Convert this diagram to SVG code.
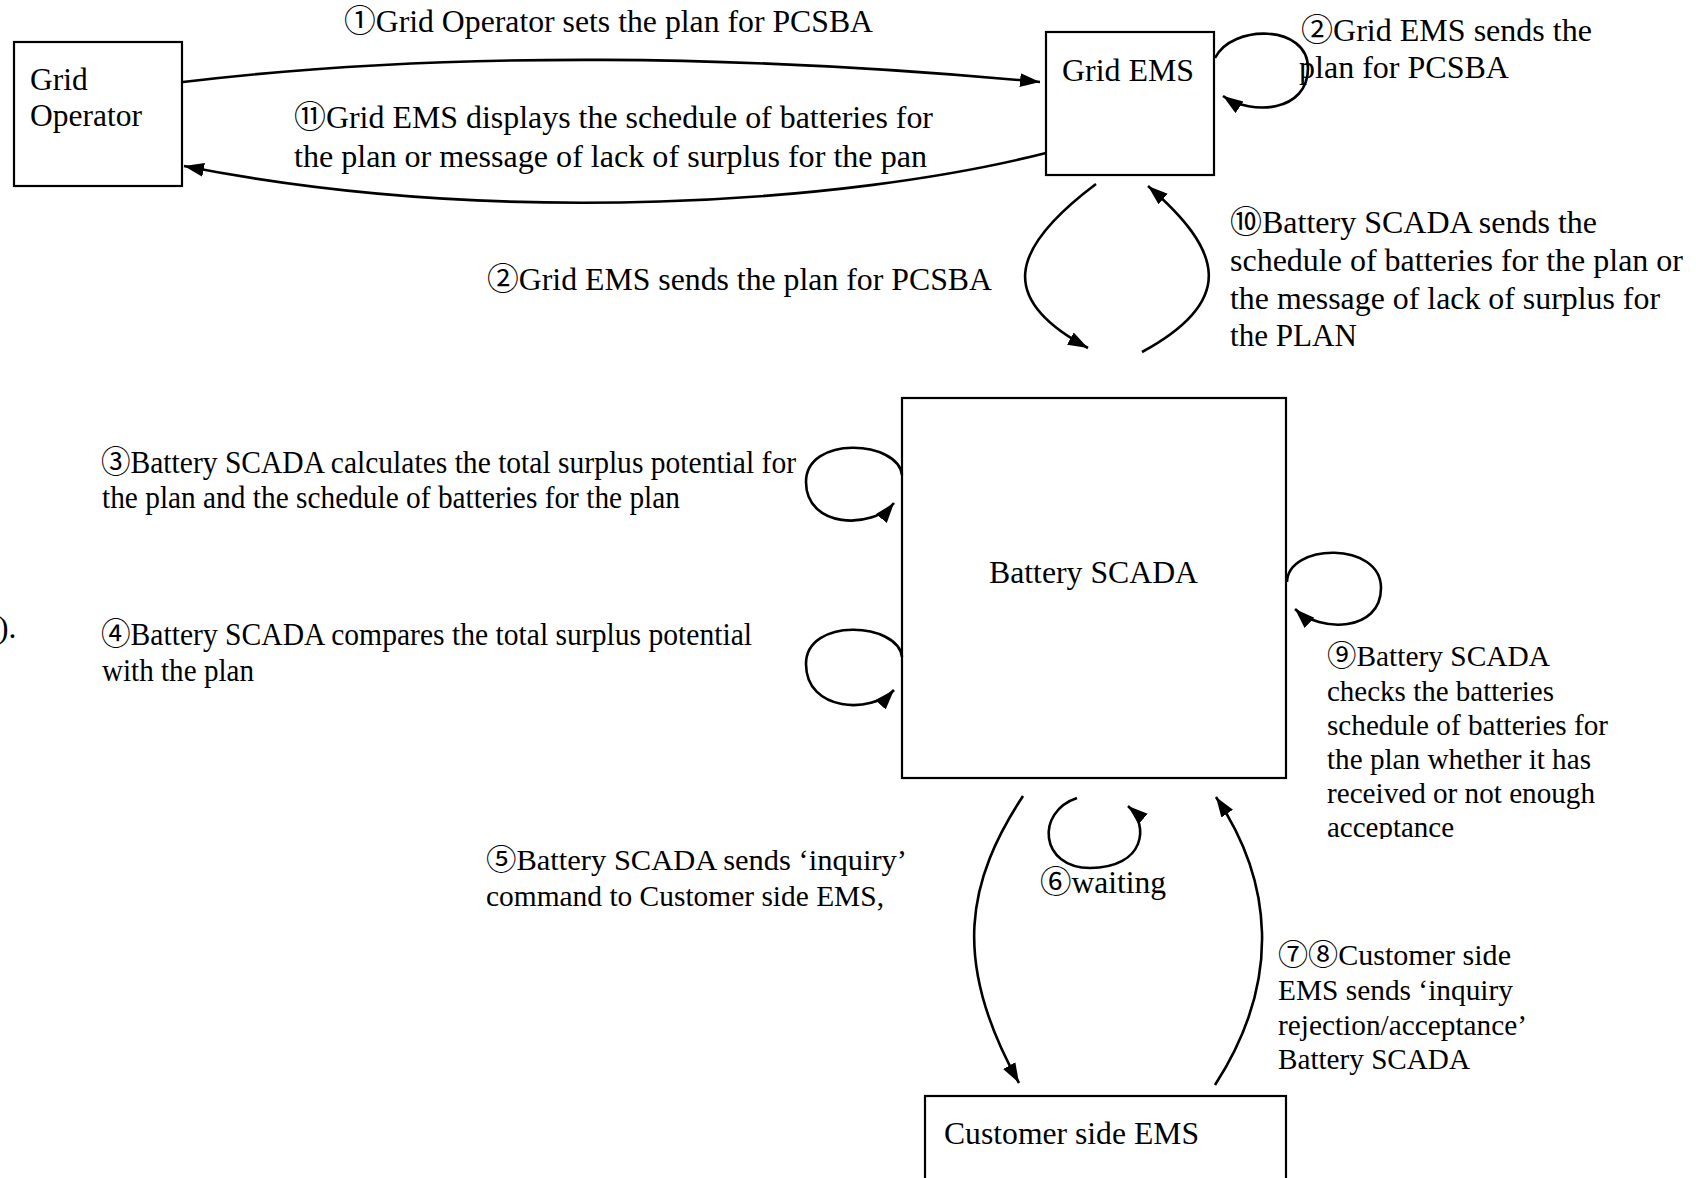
<svg xmlns="http://www.w3.org/2000/svg" width="1696" height="1178" viewBox="0 0 1696 1178">
<style>
.box{fill:#fff;stroke:#000;stroke-width:2.2}
.t{font-family:"Liberation Serif","Times New Roman","Noto Sans CJK JP",serif;font-size:31.5px;fill:#000}
.s{font-size:29px}
.c{fill:none;stroke:#000;stroke-width:2.6}
</style>
<defs>
<marker id="ah" markerUnits="userSpaceOnUse" markerWidth="22" markerHeight="16" refX="20" refY="7" orient="auto">
<path d="M0,0 L20,7 L0,14 Z" fill="#000"/>
</marker>
<clipPath id="clip9"><rect x="1300" y="640" width="396" height="199"/></clipPath>
</defs>
<rect width="1696" height="1178" fill="#fff"/>

<g id="grid-operator">
<rect class="box" x="14" y="42" width="168" height="144"/>
<text class="t" x="30" y="90">Grid</text>
<text class="t" x="30" y="126">Operator</text>
</g>
<g id="grid-ems">
<rect class="box" x="1046" y="32" width="168" height="143"/>
<text class="t" x="1062" y="81" textLength="132" lengthAdjust="spacingAndGlyphs">Grid EMS</text>
</g>
<g id="battery-scada">
<rect class="box" x="902" y="398" width="384" height="380"/>
<text class="t" x="989" y="583" textLength="209" lengthAdjust="spacingAndGlyphs">Battery SCADA</text>
</g>
<g id="customer-ems">
<rect class="box" x="925" y="1096" width="361" height="110"/>
<text class="t" x="944" y="1144" textLength="255" lengthAdjust="spacingAndGlyphs">Customer side EMS</text>
</g>

<g id="connectors">
<path class="c" d="M183,82 C450,50 750,55 1040,82" marker-end="url(#ah)"/>
<path class="c" d="M1046,153 C850,203 500,228 184,166" marker-end="url(#ah)"/>
<path class="c" d="M1215,58 C1232,24 1308,24 1308,68 C1308,112 1252,116 1223,96" marker-end="url(#ah)"/>
<path class="c" d="M1096,184 C1008,250 998,300 1088,348" marker-end="url(#ah)"/>
<path class="c" d="M1142,352 C1238,300 1222,250 1148,186" marker-end="url(#ah)"/>
<path class="c" d="M902,475 C898,440 806,435 806,482 C806,528 872,530 894,503" marker-end="url(#ah)"/>
<path class="c" d="M902,657 C898,622 806,617 806,664 C806,712 872,714 894,690" marker-end="url(#ah)"/>
<path class="c" d="M1287,582 C1288,543 1381,541 1381,588 C1381,632 1320,633 1295,609" marker-end="url(#ah)"/>
<path class="c" d="M1077,798 C1035,812 1040,868 1090,868 C1145,868 1150,825 1128,806" marker-end="url(#ah)"/>
<path class="c" d="M1023,796 C968,880 950,960 1019,1083" marker-end="url(#ah)"/>
<path class="c" d="M1215,1085 C1283,980 1272,880 1216,797" marker-end="url(#ah)"/>
</g>

<g id="labels">
<text class="t" x="344" y="32" textLength="529" lengthAdjust="spacingAndGlyphs">①Grid Operator sets the plan for PCSBA</text>
<text class="t" x="1301" y="41" textLength="291" lengthAdjust="spacingAndGlyphs">②Grid EMS sends the</text>
<text class="t" x="1299" y="78" textLength="210" lengthAdjust="spacingAndGlyphs">plan for PCSBA</text>
<text class="t" x="294" y="128" textLength="639" lengthAdjust="spacingAndGlyphs">⑪Grid EMS displays the schedule of batteries for</text>
<text class="t" x="294" y="167" textLength="633" lengthAdjust="spacingAndGlyphs">the plan or message of lack of surplus for the pan</text>
<text class="t" x="487" y="290" textLength="505" lengthAdjust="spacingAndGlyphs">②Grid EMS sends the plan for PCSBA</text>
<text class="t" x="1230" y="233" textLength="367" lengthAdjust="spacingAndGlyphs">⑩Battery SCADA sends the</text>
<text class="t" x="1230" y="271" textLength="453" lengthAdjust="spacingAndGlyphs">schedule of batteries for the plan or</text>
<text class="t" x="1230" y="309" textLength="430" lengthAdjust="spacingAndGlyphs">the message of lack of surplus for</text>
<text class="t" x="1230" y="346" textLength="127" lengthAdjust="spacingAndGlyphs">the PLAN</text>
<text class="t" x="101" y="473" textLength="695" lengthAdjust="spacingAndGlyphs">③Battery SCADA calculates the total surplus potential for</text>
<text class="t" x="102" y="508" textLength="578" lengthAdjust="spacingAndGlyphs">the plan and the schedule of batteries for the plan</text>
<text class="t" x="-2" y="638">).</text>
<text class="t" x="101" y="645" textLength="651" lengthAdjust="spacingAndGlyphs">④Battery SCADA compares the total surplus potential</text>
<text class="t" x="102" y="681" textLength="152" lengthAdjust="spacingAndGlyphs">with the plan</text>
<g clip-path="url(#clip9)">
<text class="t s" x="1327" y="666" textLength="223" lengthAdjust="spacingAndGlyphs">⑨Battery SCADA</text>
<text class="t s" x="1327" y="701" textLength="227" lengthAdjust="spacingAndGlyphs">checks the batteries</text>
<text class="t s" x="1327" y="735" textLength="281" lengthAdjust="spacingAndGlyphs">schedule of batteries for</text>
<text class="t s" x="1327" y="769" textLength="264" lengthAdjust="spacingAndGlyphs">the plan whether it has</text>
<text class="t s" x="1327" y="803" textLength="268" lengthAdjust="spacingAndGlyphs">received or not enough</text>
<text class="t s" x="1327" y="837" textLength="127" lengthAdjust="spacingAndGlyphs">acceptance</text>
</g>
<text class="t s" x="486" y="870" textLength="421" lengthAdjust="spacingAndGlyphs">⑤Battery SCADA sends ‘inquiry’</text>
<text class="t s" x="486" y="906" textLength="398" lengthAdjust="spacingAndGlyphs">command to Customer side EMS,</text>
<text class="t" x="1040" y="893" textLength="126" lengthAdjust="spacingAndGlyphs">⑥waiting</text>
<text class="t s" x="1278" y="965" textLength="233" lengthAdjust="spacingAndGlyphs">⑦⑧Customer side</text>
<text class="t s" x="1278" y="1000" textLength="235" lengthAdjust="spacingAndGlyphs">EMS sends ‘inquiry</text>
<text class="t s" x="1278" y="1035" textLength="249" lengthAdjust="spacingAndGlyphs">rejection/acceptance’</text>
<text class="t s" x="1278" y="1069" textLength="192" lengthAdjust="spacingAndGlyphs">Battery SCADA</text>
</g>
</svg>
